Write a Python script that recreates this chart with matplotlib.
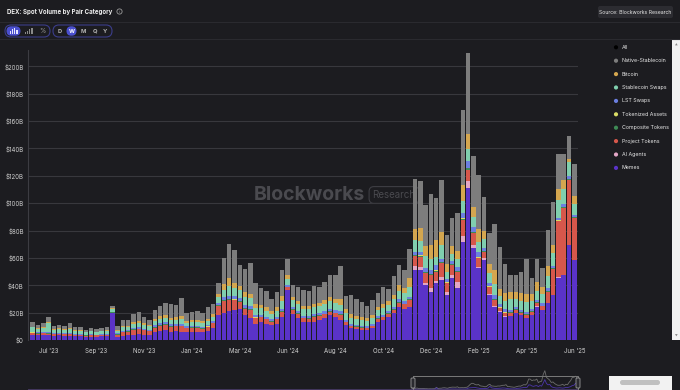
import matplotlib
matplotlib.use("Agg")
import matplotlib.pyplot as plt
from matplotlib.patches import FancyBboxPatch, Rectangle, Circle
import numpy as np

plt.rcParams['font.family'] = ['Inter', 'DejaVu Sans']

# weekly DEX spot volume, $B, by pair category (Jun '23 -> Jun '25)
week_labels = ["Jul '23", "Sep '23", "Nov '23", "Jan '24", "Mar '24", "Jun '24",
               "Aug '24", "Oct '24", "Dec '24", "Feb '25", "Apr '25", "Jun '25"]

memes = [3.8, 3.5, 3.6, 3.4, 3.2, 3.3, 3.2, 3.0, 2.8, 2.7, 2.4, 2.5, 2.5, 2.6, 2.7,
         19.5, 2.5, 3.0, 3.5, 4.0, 4.5, 4.0, 3.8, 5.5, 6.5, 7.0, 6.0, 6.5, 6.0, 5.5, 6.0, 6.0, 5.5, 6.5, 9.0,
         18, 19.5, 21, 22, 23, 18, 16, 12, 13, 12, 11, 12, 17, 36.5, 19, 16,
         13.4, 13, 13.4, 14.6, 15.8, 18.3, 17, 14.6, 11, 8.5, 8, 7.5, 7.3, 8.5, 13.4, 14.6, 17, 19.5, 24.4, 23, 24.4,
         51.5, 51.2, 40, 35.4, 41.5, 44, 33, 45, 37.8, 72, 111, 67, 52.4, 58.5, 33, 24.4, 20.7, 17, 17.5, 20,
         18.3, 15.9, 18.3, 24.4, 22, 27.3, 33, 45.6, 47.6, 69.5, 58.5]
ai_agents = [0, 0, 0, 0, 0, 0, 0, 0, 0, 0, 0, 0, 0, 0, 0,
             0, 0, 0, 0, 0, 0, 0, 0, 0, 0, 0, 0, 0, 0, 0, 0, 0, 0, 0, 0,
             0, 0, 0, 0, 0, 0, 0, 0, 0, 0, 0, 0, 0, 0, 0, 0,
             0, 0, 0, 0, 0, 0, 0, 0, 0, 0, 0, 0, 0, 0, 0, 0, 0, 0, 0, 0, 0,
             2.4, 2.4, 2, 2.4, 1.7, 1.7, 2.4, 2.4, 4.9, 3.7, 4.9, 2.4, 1.2, 1.2, 0.3, 0.3, 0.2, 0.2, 0.1, 0.1,
             0.1, 0.1, 0.1, 0.1, 0.1, 0.1, 0.1, 0.1, 0.1, 0.1, 0.1]
project_tokens = [1.3, 1.2, 1.2, 1.3, 1.1, 1.1, 1.0, 1.1, 0.9, 0.9, 0.8, 0.8, 0.8, 0.8, 0.9,
                  0.6, 1.5, 2.5, 2.5, 3.5, 3.5, 3.0, 2.5, 3.5, 3.8, 4.0, 3.7, 3.5, 4.0, 3.0, 3.0, 3.0, 2.8, 3.0, 3.2,
                  7, 9, 8, 7, 5, 5, 6, 4, 3.5, 3, 2.5, 3, 3.5, 2, 3, 3,
                  2.4, 2.5, 3.5, 3, 3, 2.5, 2.5, 4, 2, 1.5, 1.5, 1.3, 1.2, 1.5, 2, 2, 2, 2.5, 3, 3, 4.9,
                  7.3, 7.3, 7, 9.8, 6.8, 10.5, 6, 7.3, 7.3, 12.2, 8.5, 8.5, 6, 4.9, 5.4, 4.9, 2.4, 2.4, 2.4, 2,
                  1.7, 2.4, 2.4, 2.9, 2.4, 8, 19, 41, 48.8, 47.6, 30.5]
composite_tokens = [0.3, 0.3, 0.3, 0.3, 0.2, 0.2, 0.2, 0.2, 0.2, 0.2, 0.2, 0.2, 0.2, 0.2, 0.2,
                    0.2, 0.2, 0.3, 0.3, 0.3, 0.3, 0.3, 0.3, 0.4, 0.4, 0.4, 0.4, 0.4, 0.4, 0.3, 0.3, 0.3, 0.3, 0.3, 0.3,
                    0.5, 0.6, 0.7, 0.6, 0.5, 0.5, 0.5, 0.4, 0.4, 0.4, 0.3, 0.4, 0.5, 0.4, 0.4, 0.4,
                    0.4, 0.4, 0.4, 0.4, 0.4, 0.4, 0.4, 0.4, 0.4, 0.4, 0.4, 0.4, 0.4, 0.4, 0.4, 0.4, 0.4, 0.4, 0.4, 0.4, 0.4,
                    0.6, 0.6, 0.6, 0.6, 0.6, 0.6, 0.5, 0.5, 0.5, 0.8, 1.0, 0.7, 0.6, 0.5, 0.4, 0.4, 0.4, 0.3, 0.3, 0.3,
                    0.3, 0.3, 0.3, 0.3, 0.3, 0.4, 0.4, 0.5, 0.5, 0.5, 0.5]
tokenized_assets = [0.1, 0.1, 0.1, 0.1, 0.1, 0.1, 0.1, 0.1, 0.1, 0.1, 0.1, 0.1, 0.1, 0.1, 0.1,
                    0.1, 0.1, 0.1, 0.1, 0.1, 0.1, 0.1, 0.1, 0.1, 0.1, 0.1, 0.1, 0.1, 0.1, 0.1, 0.1, 0.1, 0.1, 0.1, 0.1,
                    0.1, 0.2, 0.2, 0.2, 0.2, 0.2, 0.2, 0.1, 0.1, 0.1, 0.1, 0.1, 0.2, 0.2, 0.1, 0.1,
                    0.1, 0.1, 0.1, 0.1, 0.1, 0.1, 0.1, 0.1, 0.1, 0.1, 0.1, 0.1, 0.1, 0.1, 0.1, 0.1, 0.1, 0.1, 0.1, 0.1, 0.1,
                    0.3, 0.3, 0.3, 0.3, 0.3, 0.3, 0.3, 0.3, 0.3, 0.4, 0.5, 0.4, 0.3, 0.3, 0.3, 0.3, 0.3, 0.3, 0.3, 0.3,
                    0.3, 0.3, 0.3, 0.3, 0.3, 0.3, 0.3, 0.3, 0.3, 0.3, 0.3]
lst_swaps = [0.7, 0.6, 0.6, 0.6, 0.6, 0.6, 0.5, 0.6, 0.5, 0.5, 0.4, 0.5, 0.4, 0.5, 0.5,
             0.4, 0.6, 0.8, 0.8, 1.0, 1.0, 0.9, 0.8, 1.2, 1.3, 1.4, 1.3, 1.3, 1.4, 1.1, 1.1, 1.1, 1.0, 1.2, 1.3,
             1.5, 2, 2.4, 2.2, 2, 2, 2, 1.8, 1.6, 1.5, 1.3, 1.5, 1.8, 1.2, 1.6, 1.5,
             1.5, 1.5, 1.5, 1.5, 1.6, 1.7, 1.7, 1.8, 1.4, 1.4, 1.3, 1.3, 1.2, 1.3, 1.4, 1.5, 1.5, 1.7, 1.8, 1.8, 2,
             2.4, 2.4, 3, 2.4, 3.7, 2.4, 2.4, 2.4, 2.4, 3.7, 4.9, 3.7, 3.7, 2, 2, 2.4, 2.4, 2.4, 1.5, 1.2,
             1.5, 1.7, 1.2, 1.5, 1.7, 1.7, 1, 2, 2, 2, 1.7]
stablecoin_swaps = [3.0, 2.6, 3.0, 7.0, 2.4, 2.8, 2.5, 3.0, 2.2, 2.3, 1.8, 2.2, 1.9, 2.1, 2.2,
                    1.8, 2.0, 2.6, 2.6, 3.0, 3.2, 2.8, 2.5, 3.2, 3.4, 3.5, 3.2, 3.0, 3.5, 2.6, 2.8, 2.8, 2.8, 3.0, 3.2,
                    4, 5.4, 7.3, 6, 5.5, 6, 6, 5, 4.5, 4.5, 4, 4.5, 5.5, 4, 5, 5,
                    4.9, 4.8, 5, 5, 5.2, 5.5, 5.5, 5, 5, 4.5, 4.2, 4, 3.6, 4, 4.5, 5, 4.8, 5.5, 6, 6, 7,
                    8.5, 8.5, 8.5, 8.5, 6, 9.8, 4.9, 4.9, 6, 8.5, 8.5, 7.3, 7.3, 6.6, 7.3, 8.5, 6, 6, 7.8, 6,
                    6.6, 6.8, 6, 6.6, 6.8, 9.3, 10, 13, 11, 9.8, 8]
bitcoin = [0.5, 0.5, 0.5, 0.6, 0.4, 0.5, 0.4, 0.5, 0.4, 0.4, 0.3, 0.4, 0.3, 0.4, 0.4,
           0.9, 0.6, 0.8, 0.8, 1.2, 1.3, 1.1, 1.0, 1.5, 1.7, 1.8, 1.7, 1.7, 2.0, 1.2, 1.3, 1.3, 1.2, 1.5, 1.6,
           2.5, 3.9, 5.6, 4, 3.5, 3.5, 3, 3, 2.6, 2.5, 2, 2.5, 3.5, 3, 2, 2.5,
           2.4, 2.4, 2.6, 2.6, 2.8, 3, 3, 4, 3, 2.5, 2.3, 2.2, 2, 2.4, 2.6, 3, 3, 3.5, 4.5, 4, 6.5,
           8.5, 9, 7.3, 9.8, 12.2, 9.8, 6, 6, 6, 12.2, 11, 7.3, 9.8, 6, 6.6, 9.8, 4.9, 6, 4.9, 4.9,
           5.4, 6, 4.9, 6.6, 4.9, 7.3, 6, 7.8, 6.8, 2.4, 6]
native_stablecoin = [3.7, 2.2, 3.1, 3.7, 2.2, 2.6, 2.6, 3.9, 2.4, 2.7, 1.6, 2.1, 1.8, 2.1, 2.5,
                     1.5, 3.0, 4.5, 4.3, 5.9, 6.3, 4.6, 3.4, 6.6, 7.8, 8.8, 9.9, 9.1, 13.1, 5.7, 6.1, 6.6, 6.3, 8.8, 7.3,
                     8.4, 19.4, 24.8, 24.0, 15.3, 16.8, 22.3, 15.2, 12.3, 12.0, 8.8, 11.0, 19.0, 11.7, 8.9, 10.5,
                     11.5, 11.2, 13.3, 11.8, 13.8, 16.1, 17.4, 24.1, 9.3, 14.1, 12.0, 11.2, 9.1, 11.1, 10.2, 12.4, 8.5, 13.6, 14.8, 12.7, 21.3,
                     36.1, 34.3, 30.1, 37.4, 31.2, 37.9, 21.3, 20.2, 27.5, 54.5, 59.5, 37.3, 39.4, 24.9, 23.2, 33.9, 30.7, 21, 12.8, 12.8,
                     15.8, 25.5, 11.5, 16.3, 14.5, 26.1, 31.2, 25.7, 18.9, 16.6, 23.2]

# bottom -> top
series = [
    ("Memes", memes, "#5a33c8"),
    ("AI Agents", ai_agents, "#e3a6c6"),
    ("Project Tokens", project_tokens, "#d6574b"),
    ("Composite Tokens", composite_tokens, "#3e8a55"),
    ("Tokenized Assets", tokenized_assets, "#d9dc66"),
    ("LST Swaps", lst_swaps, "#6b7fe0"),
    ("Stablecoin Swaps", stablecoin_swaps, "#80cfae"),
    ("Bitcoin", bitcoin, "#d4a64f"),
    ("Native-Stablecoin", native_stablecoin, "#7d7d7d"),
]

BG = "#1c1c20"
TXT = "#d0d0d0"
W, H = 680, 390

fig = plt.figure(figsize=(W / 100, H / 100), dpi=100, facecolor=BG)


def px(x0, y0, x1, y1):
    # pixel box (top-left origin) -> figure rect
    return [x0 / W, 1 - y1 / H, (x1 - x0) / W, (y1 - y0) / H]


# ---- main chart
ax = fig.add_axes(px(28, 50, 578, 340))
ax.set_facecolor(BG)
x = np.arange(len(memes))
bottom = np.zeros(len(x))
for name, vals, col in series:
    ax.bar(x, vals, 0.84, bottom=bottom, color=col, linewidth=0, zorder=2)
    bottom += np.array(vals)

ax.set_xlim(-0.88, 102.7)
ax.set_ylim(0, 212)
yt = np.arange(0, 201, 20)
ax.set_yticks(yt)
ax.set_yticklabels(["$0"] + [f"${v}B" for v in yt[1:]])
ax.set_xticks(np.arange(3, len(memes), 9))
ax.set_xticklabels(week_labels)
ax.tick_params(length=0, labelsize=4.4, colors=TXT, pad=3)
ax.tick_params(axis="x", pad=6)
ax.yaxis.grid(True, color="#38383d", lw=0.8, zorder=0)
for s in ["top", "right", "bottom"]:
    ax.spines[s].set_visible(False)
ax.spines["left"].set_color("#3c3c42")
ax.spines["left"].set_linewidth(0.8)

# watermark behind the bars
ax.text(254 / W, 1 - 195 / H, "Blockworks", transform=fig.transFigure, fontsize=14,
        fontweight="bold", color="#4a4a4f", va="center", ha="left", zorder=1)
ax.text(394 / W, 1 - 195 / H, "Research", transform=fig.transFigure, fontsize=7,
        color="#4a4a4f", va="center", ha="center", zorder=1,
        bbox=dict(boxstyle="round,pad=0.35,rounding_size=0.5", fc=BG, ec="#3e3e44", lw=0.8))

# ---- navigator
nav = fig.add_axes(px(28, 368, 578, 390))
nav.set_facecolor(BG)
nav.axis("off")
total = bottom
nav.plot(x, total, color="#6d6d6d", lw=0.6)
nav.plot(x, memes, color="#4b35a8", lw=0.6)
nav.axhline(0, color="#4a3c6a", lw=1.2)
nav.set_xlim(102 - 550 / 1.62, 102.5)
nav.set_ylim(-5, 240)

# ---- overlay for header, legend and widgets
ov = fig.add_axes([0, 0, 1, 1])
ov.set_xlim(0, W)
ov.set_ylim(H, 0)
ov.axis("off")

ov.plot([0, W], [22, 22], color="#2a2a2f", lw=0.8)
ov.plot([0, W], [39, 39], color="#2a2a2f", lw=0.8)
ov.text(7, 12, "DEX: Spot Volume by Pair Category", fontsize=4.4, fontweight="bold",
        color="#eeeeee", va="center", ha="left")
# info icon
ov.add_patch(Circle((119.5, 11.5), 2.6, fc="none", ec="#9a9a9a", lw=0.6))
ov.text(119.5, 11.7, "i", fontsize=3, color="#9a9a9a", va="center", ha="center")

ov.add_patch(FancyBboxPatch((598, 6), 75, 12, boxstyle="round,pad=0,rounding_size=2",
                            fc="#2c2c31", ec="none"))
ov.text(635.5, 12.3, "Source: Blockworks Research", fontsize=3.7, color="#e8e8e8",
        va="center", ha="center")

# view buttons
ov.add_patch(FancyBboxPatch((5, 25), 45, 12, boxstyle="round,pad=0,rounding_size=6",
                            fc="none", ec="#3b3d8a", lw=0.8))
ov.add_patch(FancyBboxPatch((6.5, 26.3), 14, 9.4, boxstyle="round,pad=0,rounding_size=4.7",
                            fc="#4a4fcf", ec="none"))
for i, hgt in enumerate([3.5, 5, 6, 4.5]):
    ov.add_patch(Rectangle((10 + i * 2.1, 34 - hgt), 1.2, hgt, fc="#e6e6ff", ec="none"))
for i, hgt in enumerate([2, 3.5, 5, 6]):
    ov.add_patch(Rectangle((25 + i * 2.1, 34 - hgt), 1.2, hgt, fc="#8a8a8a", ec="none"))
ov.text(42, 31, "%", fontsize=4.5, color="#9a9a9a", va="center", ha="center")

ov.add_patch(FancyBboxPatch((53, 25), 59, 12, boxstyle="round,pad=0,rounding_size=6",
                            fc="none", ec="#3b3d8a", lw=0.8))
ov.add_patch(FancyBboxPatch((66.5, 26.3), 10, 9.4, boxstyle="round,pad=0,rounding_size=4.7",
                            fc="#4a4fcf", ec="none"))
for lab, xp in zip(["D", "W", "M", "Q", "Y"], [60, 71.5, 83.5, 95, 105]):
    ov.text(xp, 31.3, lab, fontsize=4.2, fontweight="bold",
            color="#ffffff" if lab == "W" else "#b0b0b0", va="center", ha="center")

# legend panel
ov.scatter([616], [47.3], s=9, color="#000000", edgecolors="none")
ov.text(622, 47.3, "All", fontsize=3.8, color="#e8e8e8", va="center", ha="left")
for k, (name, vals, col) in enumerate(reversed(series)):
    yy = 60.7 + k * 13.4
    ov.scatter([616], [yy], s=9, color=col, edgecolors="none")
    ov.text(622, yy, name, fontsize=3.8, color="#e8e8e8", va="center", ha="left")

# scrollbars
ov.add_patch(Rectangle((672, 40), 8, 300, fc="#f2f2f2", ec="none"))
ov.text(676, 45, "▲", fontsize=2.5, color="#888888", ha="center", va="center",
        family=["DejaVu Sans"])
ov.text(676, 336, "▼", fontsize=2.5, color="#888888", ha="center", va="center",
        family=["DejaVu Sans"])
ov.add_patch(Rectangle((609, 376), 63, 14, fc="#f2f2f2", ec="none"))
ov.add_patch(FancyBboxPatch((620, 380), 40, 5, boxstyle="round,pad=0,rounding_size=2.5",
                            fc="#c0c0c0", ec="none"))

# navigator window
ov.add_patch(Rectangle((413, 376), 165, 16, fc="none", ec="#7a7a7a", lw=0.7))
for hx in [413, 578]:
    ov.add_patch(FancyBboxPatch((hx - 2, 378), 4, 10, boxstyle="round,pad=0,rounding_size=1",
                                fc="#2a2a2f", ec="#9a9a9a", lw=0.6))

fig.savefig("out.png", dpi=100, facecolor=BG)
